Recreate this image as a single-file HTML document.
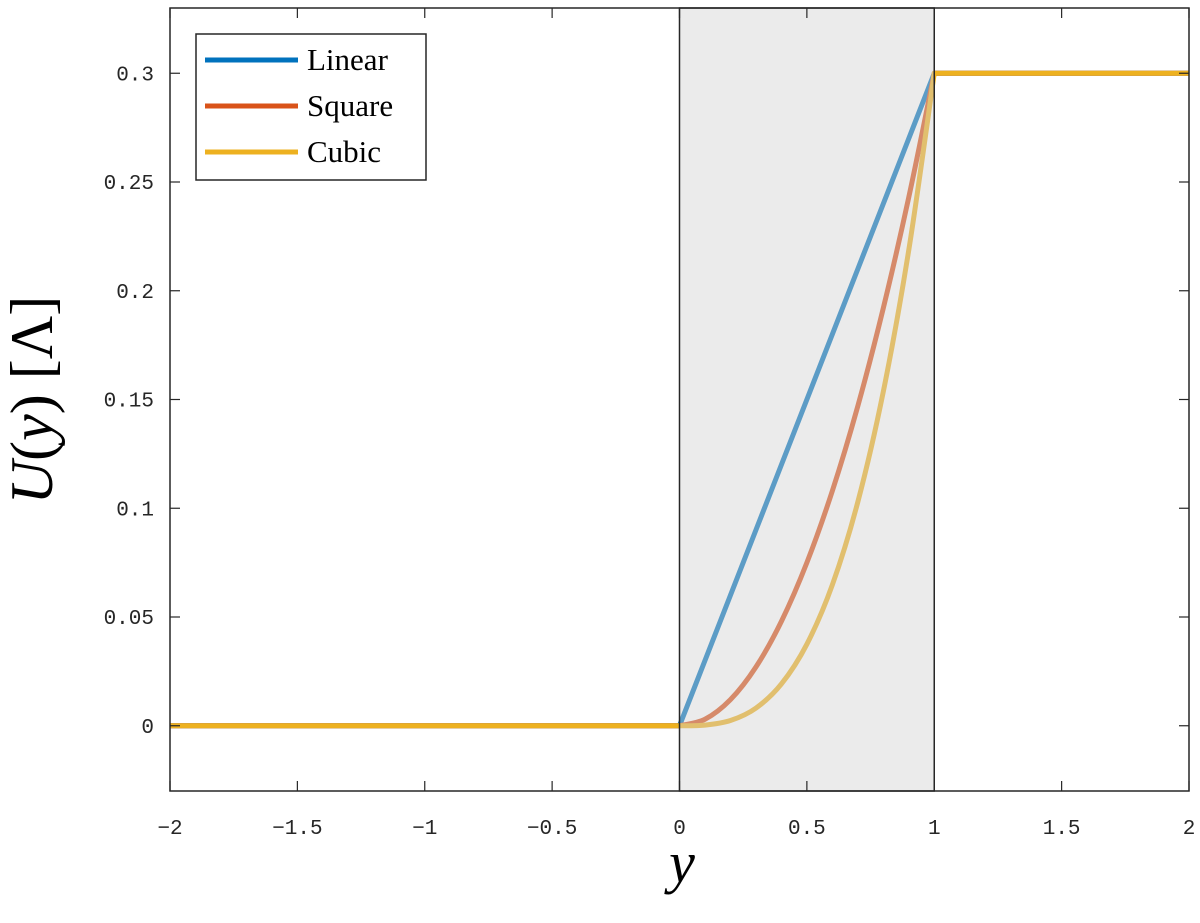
<!DOCTYPE html>
<html><head><meta charset="utf-8"><style>
body{margin:0;background:#fff}
svg{display:block}
.tick{font-family:"Liberation Mono",monospace;font-size:21px;fill:#262626}
.leg{font-family:"Liberation Serif",serif;font-size:31px;fill:#000}
</style></head><body>
<svg id="chart" width="1200" height="923">
<rect width="1200" height="923" fill="#fff"/>
<g id="marks"></g>
<g id="axes"></g>
<text x="682" y="882" text-anchor="middle" font-family="Liberation Serif,serif" font-style="italic" font-size="58" fill="#000">y</text>
<text transform="translate(52,400) rotate(-90)" text-anchor="middle" font-family="Liberation Serif,serif" font-size="60" fill="#000"><tspan font-style="italic">U</tspan>(<tspan font-style="italic">y</tspan>) [Λ]</text>
<g>
<rect x="196" y="34" width="230" height="146" fill="#fff" stroke="#262626" stroke-width="1.5"/>
<line x1="205" x2="298" y1="60" y2="60" stroke="#0072BD" stroke-width="5"/>
<text class="leg" x="307" y="70">Linear</text>
<line x1="205" x2="298" y1="106" y2="106" stroke="#D95319" stroke-width="5"/>
<text class="leg" x="307" y="116">Square</text>
<line x1="205" x2="298" y1="152" y2="152" stroke="#EDB120" stroke-width="5"/>
<text class="leg" x="307" y="162">Cubic</text>
</g>
</svg>
<script>
const xs = [0,0.1,0.2,0.3,0.4,0.5,0.6,0.7,0.8,0.9,1];
const linearVals = [0,0.03,0.06,0.09,0.12,0.15,0.18,0.21,0.24,0.27,0.3];
const squareVals = [0,0.003,0.012,0.027,0.048,0.075,0.108,0.147,0.192,0.243,0.3];
const cubicVals = [0,0.0003,0.0024,0.0081,0.0192,0.0375,0.0648,0.1029,0.1536,0.2187,0.3];
const leftLevel = 0;
const rightLevel = 0.3;
const xTicks = [-2,-1.5,-1,-0.5,0,0.5,1,1.5,2];
const xTickLabels = ["\u22122","\u22121.5","\u22121","\u22120.5","0","0.5","1","1.5","2"];
const yTicks = [0,0.05,0.1,0.15,0.2,0.25,0.3];
const yTickLabels = ["0","0.05","0.1","0.15","0.2","0.25","0.3"];
const shadeRange = [0,1];

const L=170,R=1189,T=8,B=791, xMin=-2,xMax=2,yMin=-0.03,yMax=0.33;
const X=v=>L+(v-xMin)/(xMax-xMin)*(R-L);
const Y=v=>B-(v-yMin)/(yMax-yMin)*(B-T);
const NS="http://www.w3.org/2000/svg";
const marks=document.getElementById('marks'), axes=document.getElementById('axes');
function mk(tag,attrs,parent){const e=document.createElementNS(NS,tag);for(const k in attrs)e.setAttribute(k,attrs[k]);parent.appendChild(e);return e;}

function smoothPath(pts){
  // Catmull-Rom through pixel points
  let d='M'+pts[0][0]+','+pts[0][1];
  for(let i=0;i<pts.length-1;i++){
    const p0=pts[Math.max(0,i-1)],p1=pts[i],p2=pts[i+1],p3=pts[Math.min(pts.length-1,i+2)];
    const c1=[p1[0]+(p2[0]-p0[0])/6,p1[1]+(p2[1]-p0[1])/6];
    const c2=[p2[0]-(p3[0]-p1[0])/6,p2[1]-(p3[1]-p1[1])/6];
    d+=' C'+c1[0]+','+c1[1]+' '+c2[0]+','+c2[1]+' '+p2[0]+','+p2[1];
  }
  return d;
}

const series=[["linear",linearVals,"#0072BD"],["square",squareVals,"#D95319"],["cubic",cubicVals,"#EDB120"]];
series.forEach(([n,vals,c])=>{
  const inner=xs.map((x,i)=>[X(x),Y(vals[i])]);
  let d='M'+X(xMin)+','+Y(leftLevel)+' L'+X(0)+','+Y(leftLevel)+' '+smoothPath(inner).replace(/^M/,'L')+' L'+X(1)+','+Y(rightLevel)+' L'+X(xMax)+','+Y(rightLevel);
  const p=mk('path',{d:d,fill:'none',stroke:c,'stroke-width':5,'stroke-linejoin':'round'},marks);
  
  
});
const sh=mk('rect',{x:X(shadeRange[0]),y:T,width:X(shadeRange[1])-X(shadeRange[0]),height:B-T,fill:'rgb(210,210,210)','fill-opacity':0.44,stroke:'#262626','stroke-width':1.5},marks);



const frame=mk('rect',{x:L,y:T,width:R-L,height:B-T,fill:'none',stroke:'#262626','stroke-width':1.5},axes);


xTicks.forEach((v,i)=>{
  const x=X(v);
  mk('line',{x1:x,x2:x,y1:B,y2:B-10,stroke:'#262626','stroke-width':1.2},axes);
  mk('line',{x1:x,x2:x,y1:T,y2:T+10,stroke:'#262626','stroke-width':1.2},axes);
  const t=mk('text',{x:x,y:B+43,'text-anchor':'middle',class:'tick'},axes);
  t.textContent=xTickLabels[i];
  
  
});
yTicks.forEach((v,i)=>{
  const y=Y(v);
  mk('line',{x1:L,x2:L+10,y1:y,y2:y,stroke:'#262626','stroke-width':1.2},axes);
  mk('line',{x1:R,x2:R-10,y1:y,y2:y,stroke:'#262626','stroke-width':1.2},axes);
  const t=mk('text',{x:L-16,y:y+7,'text-anchor':'end',class:'tick'},axes);
  t.textContent=yTickLabels[i];
  
  
});
</script>
</body></html>
